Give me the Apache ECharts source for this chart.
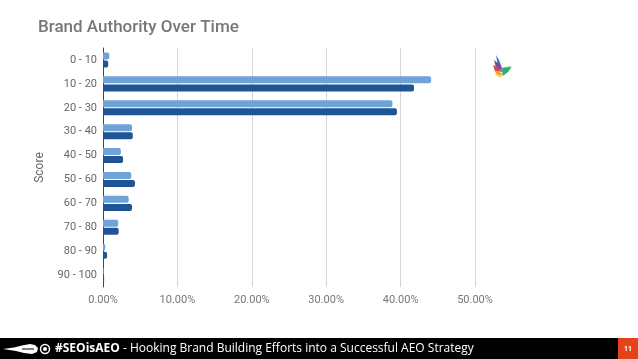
<!DOCTYPE html>
<html>
<head>
<meta charset="utf-8">
<script src="https://cdn.jsdelivr.net/npm/echarts@6/dist/echarts.min.js"></script>
<style>
html,body{margin:0;padding:0;background:#fff;}
#chart{width:638px;height:359px;}
</style>
</head>
<body>
<div id="chart"></div>
<script>
var categories = ['0 - 10','10 - 20','20 - 30','30 - 40','40 - 50','50 - 60','60 - 70','70 - 80','80 - 90','90 - 100'];
var seriesLight = [0.85, 44.1, 38.9, 3.9, 2.4, 3.8, 3.45, 2.05, 0.3, 0.1];
var seriesDark = [0.7, 41.8, 39.5, 4.0, 2.7, 4.3, 3.9, 2.1, 0.55, 0.15];
var xTicks = [0, 10, 20, 30, 40, 50];

var chart = echarts.init(document.getElementById('chart'), null, {renderer:'canvas'});
chart.setOption({
  animation:false,
  title:{text:'Brand Authority Over Time', left:33, top:14,
    textStyle:{fontFamily:'Roboto', fontSize:17, fontWeight:500, color:'#777'}},
  grid:{left:103, right:163, top:48, bottom:72, containLabel:false},
  xAxis:{type:'value', min:xTicks[0], max:xTicks[xTicks.length-1], interval:10,
    axisLine:{show:false}, axisTick:{show:false},
    axisLabel:{formatter:function(v){return v.toFixed(2)+'%';}, color:'#777', fontFamily:'Roboto', fontSize:11, margin:8},
    splitLine:{lineStyle:{color:'#d6d6d6', width:1}}},
  yAxis:{type:'category', data:categories, inverse:true,
    name:'Score', nameLocation:'middle', nameGap:57, nameRotate:90,
    nameTextStyle:{color:'#666', fontFamily:'Roboto', fontSize:12},
    axisLine:{show:true, lineStyle:{color:'#444', width:1}}, axisTick:{show:false},
    axisLabel:{color:'#666', fontFamily:'Roboto', fontSize:11, margin:6}},
  series:[
    {type:'bar', data:seriesLight, barWidth:7, barGap:'15%', itemStyle:{color:'#6fa3d8', borderRadius:[0,2,2,0]}},
    {type:'bar', data:seriesDark, barWidth:7, itemStyle:{color:'#1f5594', borderRadius:[0,2,2,0]}}
  ],
  graphic:[
    {type:'rect', shape:{x:0,y:338,width:638,height:21}, style:{fill:'#000'}},
    {type:'rect', shape:{x:618,y:338,width:20,height:21}, style:{fill:'#e5421c'}},
    {type:'text', x:628, y:349, style:{text:'11', fill:'#fff', font:'bold 7px Roboto', textAlign:'center', textVerticalAlign:'middle'}},
    {type:'polygon', shape:{points:[[3,349],[14,347.5],[22,345.5],[30,344],[35,345],[38,348],[37,352],[32,354],[24,353],[16,351]]}, style:{fill:'#fff'}},
    {type:'line', shape:{x1:22,y1:349,x2:34,y2:349}, style:{stroke:'#000', lineWidth:1}},
    {type:'circle', shape:{cx:45,cy:349,r:4.5}, style:{fill:'none', stroke:'#fff', lineWidth:1.5}},
    {type:'circle', shape:{cx:45,cy:349,r:2}, style:{fill:'#fff'}},
    {type:'text', x:55, y:349, style:{rich:{b:{font:'bold 12px "Open Sans"', fill:'#fff'}, n:{font:'12px "Open Sans"', fill:'#fff'}}, text:'{b|#SEOisAEO}{n| - Hooking Brand Building Efforts into a Successful AEO Strategy}', textVerticalAlign:'middle'}},
    {type:'polygon', shape:{points:[[496,55],[499,60],[502,68],[498,66]]}, style:{fill:'#3a6fb0'}},
    {type:'polygon', shape:{points:[[494,60],[499,64],[503,70],[496,68]]}, style:{fill:'#7b4aa0'}},
    {type:'polygon', shape:{points:[[493,65],[499,68],[503,72],[495,71]]}, style:{fill:'#d44848'}},
    {type:'polygon', shape:{points:[[494,70],[500,72],[503,75],[497,75]]}, style:{fill:'#f0a040'}},
    {type:'polygon', shape:{points:[[495,74],[501,75],[503,77],[498,77]]}, style:{fill:'#f5d36a'}},
    {type:'polygon', shape:{points:[[501,68],[507,67],[511,68],[508,72],[503,76]]}, style:{fill:'#3aa87a'}},
    {type:'polygon', shape:{points:[[508,66],[512,67],[509,69]]}, style:{fill:'#6cc04a'}}
  ]
});
</script>
</body>
</html>
